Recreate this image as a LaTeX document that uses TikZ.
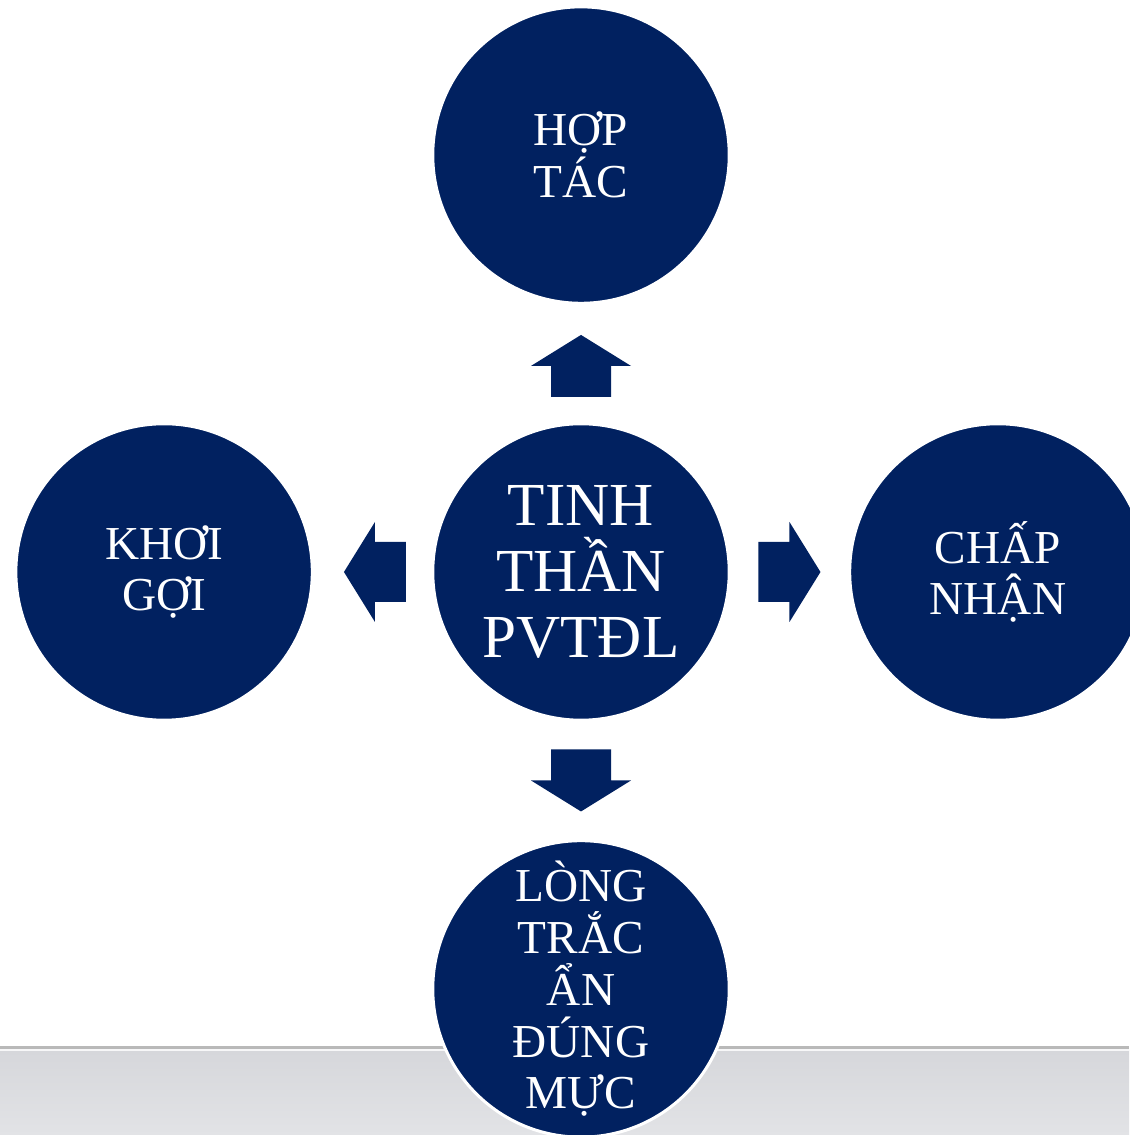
\documentclass[tikz,border=0pt]{standalone}
\usepackage{fontspec}
\setmainfont{Liberation Serif}
\usetikzlibrary{positioning,calc}
\definecolor{navy}{RGB}{1,33,96}
\definecolor{bandgray}{RGB}{214,215,219}
\definecolor{bandlight}{RGB}{226,227,230}

\begin{document}
\begin{tikzpicture}[x=0.02cm,y=0.02cm,
	ball/.style={circle,fill=navy,draw=white,line width=0.06cm,outer sep=0pt,
		minimum size=5.93cm,inner sep=0pt,text=white,align=center,
		font=\fontsize{26.9}{29.5}\selectfont},
	barrow/.pic={\fill[navy] (-31,-30) -- (0,-30) -- (0,-50) -- (31,0) -- (0,50) -- (0,30) -- (-31,30) -- cycle;},
	node distance=2.41cm]
	\useasboundingbox (0,0) rectangle (1129,1135);
	\fill[white] (0,0) rectangle (1129,1135);
	% gray band
	\shade[top color=bandgray,bottom color=bandlight] (0,0) rectangle (1129,84);
	\fill[white!80!bandgray] (0,84) rectangle (1129,86);
	\fill[gray!55] (0,86) rectangle (1129,88.5);
	%
	\node[ball,font=\fontsize{34.8}{37.5}\selectfont] (mid) at (581,563) {TINH\\THẦN\\PVTĐL};
	\node[ball,above=of mid] (hoptac) {HỢP\\TÁC};
	\node[ball,left=of mid] (khoigoi) {KHƠI\\GỢI};
	\node[ball,right=of mid] (chapnhan) {CHẤP\\NHẬN};
	\node[ball,below=of mid] (longtrac) {LÒNG\\TRẮC\\ẨN\\ĐÚNG\\MỰC};
	%
	\pic[rotate=90] at ($(mid.north)!0.48!(hoptac.south)$) {barrow};
	\pic[rotate=180] at ($(mid.west)!0.48!(khoigoi.east)$) {barrow};
	\pic at ($(mid.east)!0.5!(chapnhan.west)$) {barrow};
	\pic[rotate=-90] at ($(mid.south)!0.5!(longtrac.north)$) {barrow};
\end{tikzpicture}
\end{document}
